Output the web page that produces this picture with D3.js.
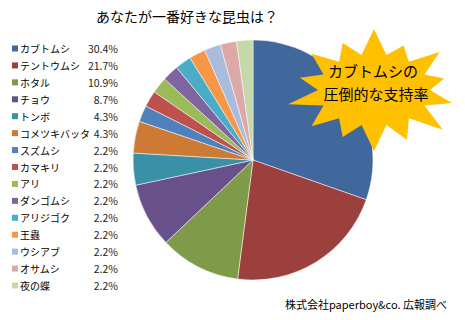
<!DOCTYPE html>
<html>
<head>
<meta charset="utf-8">
<script src="https://cdn.jsdelivr.net/npm/d3@7"></script>
<style>
body { margin: 0; background: #fff; }
text { font-family: "Noto Sans CJK JP", sans-serif; }
</style>
</head>
<body>
<div id="chart"></div>
<script>
var insects = ["カブトムシ", "テントウムシ", "ホタル", "チョウ", "トンボ", "コメツキバッタ", "スズムシ",
  "カマキリ", "アリ", "ダンゴムシ", "アリジゴク", "王蟲", "ウシアブ", "オサムシ", "夜の蝶"];
var percents = [30.4, 21.7, 10.9, 8.7, 4.3, 4.3, 2.2, 2.2, 2.2, 2.2, 2.2, 2.2, 2.2, 2.2, 2.2];
var colors = ["#41689c", "#9c403e", "#7f9a48", "#68518a", "#3a91a7", "#cc7a36", "#4f81bd",
  "#c0504d", "#9bbb59", "#8064a2", "#4bacc6", "#f79646", "#a9bcdb", "#dca9a8", "#c5d8a9"];

var width = 465, height = 320;
var cx = 253, cy = 160, radius = 120;

var svg = d3.select("#chart")
  .append("svg")
  .attr("width", width)
  .attr("height", height);

// title
svg.append("text")
  .attr("x", 187)
  .attr("y", 22)
  .attr("text-anchor", "middle")
  .style("font-size", "14px")
  .text("あなたが一番好きな昆虫は？");

var color = d3.scaleOrdinal().domain(insects).range(colors);

var pie = d3.pie()
  .sort(null)
  .value(function(d, i) { return percents[i]; });

var arc = d3.arc().innerRadius(0).outerRadius(radius);

svg.append("g")
  .attr("transform", "translate(" + cx + "," + cy + ")")
  .selectAll("path")
  .data(pie(insects))
  .enter()
  .append("path")
  .attr("d", arc)
  .attr("fill", function(d) { return color(d.data); })
  .attr("stroke", "#fff")
  .attr("stroke-width", 0.5);

// legend
var rowY = d3.scalePoint().domain(insects).range([49, 286]);

var legend = svg.append("g").selectAll("g")
  .data(insects)
  .enter()
  .append("g")
  .attr("transform", function(d) { return "translate(0," + rowY(d) + ")"; });

legend.append("rect")
  .attr("x", 12)
  .attr("y", -3.5)
  .attr("width", 6)
  .attr("height", 6)
  .attr("fill", function(d) { return color(d); });

legend.append("text")
  .attr("x", 20)
  .attr("y", 4)
  .style("font-size", "10px")
  .text(function(d) { return d; });

legend.append("text")
  .attr("x", 118)
  .attr("y", 4)
  .attr("text-anchor", "end")
  .style("font-size", "10.5px")
  .attr("fill", "#222")
  .text(function(d, i) { return percents[i].toFixed(1) + "%"; });

// starburst callout
var spikes = [1.05, 0.85, 1.05, 0.9, 1.0, 1.1, 0.95, 1.05, 0.9, 1.0, 1.1, 0.95, 1.0, 0.9];
var burstPts = [];
spikes.forEach(function(s, i) {
  var a0 = (i / spikes.length) * 2 * Math.PI;
  var a1 = ((i + 0.5) / spikes.length) * 2 * Math.PI;
  burstPts.push([374 + 80 * s * Math.sin(a0), 90 - 58 * s * Math.cos(a0)]);
  burstPts.push([374 + 56 * Math.sin(a1), 90 - 36 * Math.cos(a1)]);
});
svg.append("path")
  .attr("d", d3.line()(burstPts) + "Z")
  .attr("fill", "#ffc000");

svg.append("text")
  .attr("x", 373)
  .attr("y", 77)
  .attr("text-anchor", "middle")
  .style("font-size", "15px")
  .text("カブトムシの");

svg.append("text")
  .attr("x", 376)
  .attr("y", 100)
  .attr("text-anchor", "middle")
  .style("font-size", "15px")
  .text("圧倒的な支持率");

// source
svg.append("text")
  .attr("x", 447)
  .attr("y", 309)
  .attr("text-anchor", "end")
  .style("font-size", "11px")
  .text("株式会社paperboy&co. 広報調べ");
</script>
</body>
</html>
